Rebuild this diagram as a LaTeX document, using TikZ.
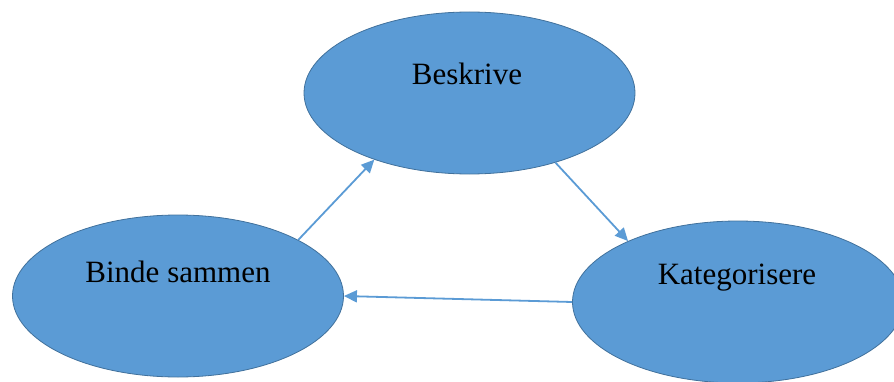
\documentclass[tikz,border=0pt]{standalone}
\usepackage{fontspec}
\setmainfont{Liberation Serif}
\usetikzlibrary{shapes.geometric,arrows.meta}
\definecolor{ellfill}{HTML}{5B9BD5}
\definecolor{elldraw}{HTML}{41719C}
\definecolor{arrowcol}{HTML}{5B9BD5}
\begin{document}
\begin{tikzpicture}[x=1pt,y=1pt,
  bubble/.style={ellipse, draw=elldraw, line width=0.8pt, fill=ellfill,
    minimum width=331pt, minimum height=162pt, inner sep=0pt},
  bubbletext/.style={font=\fontsize{31}{36}\selectfont, text=black},
  conn/.style={draw=arrowcol, line width=1.8pt, -{Triangle[length=13pt,width=12pt]}}]
\useasboundingbox (0,0) rectangle (894,381);
\clip (0,0) rectangle (894,381);
\node[bubble] (top) at (469.5,288) {};
\node[bubble] (left) at (178,85) {};
\node[bubble] (right) at (738,79) {};
\node[bubbletext] (ttop) at (467,307) {Beskrive};
\node[bubbletext] (tleft) at (178,109) {Binde sammen};
\node[bubbletext] (tright) at (737,103) {Kategorisere};
\draw[conn] (left.25.8) -- (top.215.3);
\draw[conn] (top.-39.3) -- (right.151.3);
\draw[conn] (right.west) -- (left.east);
\end{tikzpicture}
\end{document}
